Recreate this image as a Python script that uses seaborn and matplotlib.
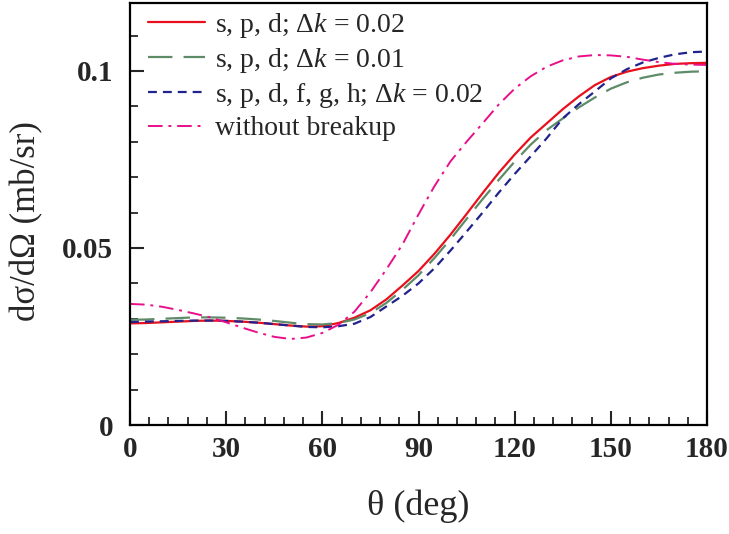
import matplotlib
matplotlib.use("Agg")
import matplotlib.pyplot as plt
import seaborn as sns
import numpy as np
import pandas as pd
from matplotlib.ticker import MultipleLocator, FixedLocator, FixedFormatter

theta = [0, 5, 10, 15, 20, 25, 30, 35, 40, 45, 50, 55, 60, 65, 70, 75, 80, 85, 90,
         95, 100, 105, 110, 115, 120, 125, 130, 135, 140, 145, 150, 155, 160, 165, 170, 175, 180]

spd_002 = [0.0287, 0.0288, 0.0290, 0.0292, 0.0294, 0.0295, 0.0294, 0.0292, 0.0289, 0.0285,
           0.0281, 0.0278, 0.0279, 0.0288, 0.0303, 0.0324, 0.0355, 0.0394, 0.0435,
           0.0484, 0.0538, 0.0596, 0.0655, 0.0712, 0.0764, 0.0812, 0.0852, 0.0892, 0.0928,
           0.0960, 0.0983, 0.0998, 0.1008, 0.1015, 0.1020, 0.1022, 0.1023]

spd_001 = [0.0297, 0.0298, 0.0300, 0.0302, 0.0304, 0.0304, 0.0303, 0.0301, 0.0298, 0.0294,
           0.0289, 0.0285, 0.0284, 0.0288, 0.0298, 0.0316, 0.0345, 0.0382, 0.0423,
           0.0472, 0.0525, 0.0582, 0.0638, 0.0692, 0.0744, 0.0792, 0.0833, 0.0866, 0.0897,
           0.0925, 0.0950, 0.0968, 0.0981, 0.0990, 0.0995, 0.0998, 0.0999]

spdfgh_002 = [0.0291, 0.0292, 0.0293, 0.0294, 0.0295, 0.0295, 0.0294, 0.0292, 0.0289, 0.0285,
              0.0281, 0.0277, 0.0276, 0.0279, 0.0286, 0.0305, 0.0335, 0.0365, 0.0400,
              0.0443, 0.0493, 0.0546, 0.0600, 0.0656, 0.0709, 0.0759, 0.0810, 0.0866, 0.0906,
              0.0942, 0.0979, 0.1005, 0.1024, 0.1037, 0.1047, 0.1053, 0.1055]

no_breakup = [0.0342, 0.0340, 0.0334, 0.0325, 0.0315, 0.0304, 0.0290, 0.0275, 0.0261, 0.0249,
              0.0243, 0.0247, 0.0260, 0.0283, 0.0320, 0.0375, 0.0440, 0.0510, 0.0595,
              0.0675, 0.0745, 0.0800, 0.0852, 0.0905, 0.0950, 0.0985, 0.1012, 0.1030, 0.1041,
              0.1045, 0.1044, 0.1040, 0.1032, 0.1025, 0.1020, 0.1018, 0.1017]

labels = ["s, p, d; $\\Delta k$ = 0.02",
          "s, p, d; $\\Delta k$ = 0.01",
          "s, p, d, f, g, h; $\\Delta k$ = 0.02",
          "without breakup"]

x_ticks = [0, 30, 60, 90, 120, 150, 180]
y_ticks = [0, 0.05, 0.1]
y_tick_labels = ["0", "0.05", "0.1"]

sns.set_theme(style="white")
plt.rcParams['font.family'] = ['Liberation Serif', 'DejaVu Serif']
plt.rcParams['mathtext.fontset'] = 'custom'
plt.rcParams['mathtext.rm'] = 'Liberation Serif'
plt.rcParams['mathtext.it'] = 'Liberation Serif:italic'
plt.rcParams['mathtext.bf'] = 'Liberation Serif:bold'

fig = plt.figure(figsize=(7.29, 5.34), dpi=100)
ax = fig.add_axes([130/729, 109/534, 577/729, 422/534])

series = [spd_002, spd_001, spdfgh_002, no_breakup]
colors = ["#e8101c", "#5e8c68", "#22228c", "#e8108a"]
styles = [(None, None), (11, 5), (4, 2.7), (7.5, 3, 1.5, 3)]
widths = [1.6, 1.6, 1.6, 1.4]

for vals, lab, col, dsh, lw in zip(series, labels, colors, styles, widths):
    df = pd.DataFrame({"theta": theta, "val": vals})
    sns.lineplot(data=df, x="theta", y="val", ax=ax, color=col, lw=lw, label=lab)
    line = ax.lines[-1]
    if dsh[0] is not None:
        line.set_dashes(dsh)

ax.set_xlim(0, 180)
ax.set_ylim(0, 0.1192)
ax.xaxis.set_major_locator(FixedLocator(x_ticks))
ax.xaxis.set_minor_locator(MultipleLocator(6))
ax.yaxis.set_major_locator(FixedLocator(y_ticks))
ax.yaxis.set_major_formatter(FixedFormatter(y_tick_labels))
ax.yaxis.set_minor_locator(MultipleLocator(0.01))

ax.tick_params(axis="both", which="major", direction="in", length=10, width=1.5,
               labelsize=21, top=False, right=False, bottom=True, left=True)
ax.tick_params(axis="x", which="major", pad=8)
ax.tick_params(axis="y", which="major", pad=12)
ax.tick_params(axis="both", which="minor", direction="in", length=6, width=1.3,
               top=False, right=False, bottom=True, left=True)
for lbl in ax.get_xticklabels() + ax.get_yticklabels():
    lbl.set_fontweight("bold")

for sp in ax.spines.values():
    sp.set_linewidth(1.6)
    sp.set_color("black")

ax.set_xlabel("θ (deg)", fontsize=26, labelpad=19)
ax.set_ylabel("dσ/dΩ (mb/sr)", fontsize=25)
ax.yaxis.set_label_coords(-0.15, 0.483)

leg = ax.legend(loc="upper left", frameon=False, fontsize=20, handlelength=2.05,
                handletextpad=0.36, labelspacing=0.22, borderaxespad=0.0, borderpad=0.2,
                bbox_to_anchor=(0.0215, 0.995))

fig.savefig("out.png", dpi=100)
